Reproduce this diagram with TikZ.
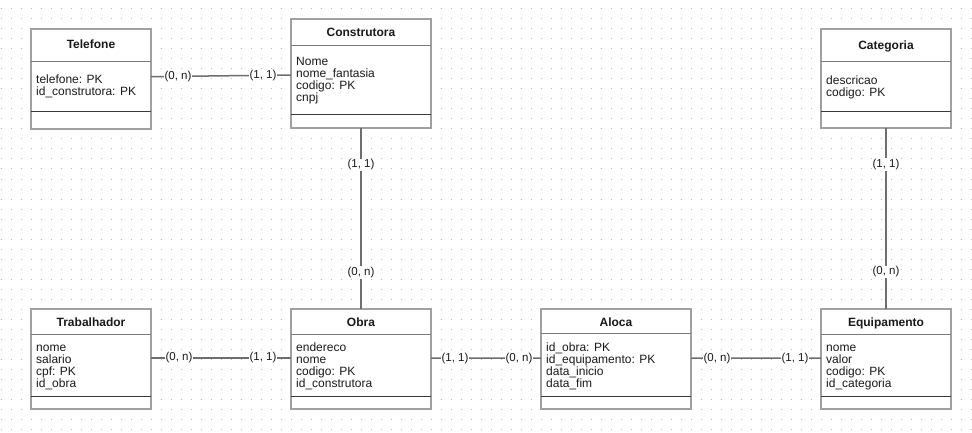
\documentclass[tikz,border=0pt]{standalone}
\usepackage{fontspec}
\setmainfont{Liberation Sans}
\definecolor{boxgray}{HTML}{A0A0A0}
\definecolor{divgray}{HTML}{7A7A7A}
\definecolor{divdark}{HTML}{3A3A3A}
\definecolor{conngray}{HTML}{6E6E6E}
\definecolor{dotgray}{HTML}{BDBDBD}
\definecolor{txt}{HTML}{1A1A1A}
\tikzset{
 ent/.style={draw=boxgray, line width=2pt, fill=white, anchor=north west, inner sep=0pt, outer sep=0pt},
 hdiv/.style={draw=divgray, line width=1pt},
 bdiv/.style={draw=divdark, line width=1pt},
 ttl/.style={font=\fontsize{12}{12}\selectfont\bfseries, anchor=base, inner sep=0pt, text=txt},
 attr/.style={font=\fontsize{12}{12}\selectfont, anchor=base west, inner sep=0pt, text=txt},
 conn/.style={draw=conngray, line width=1.5pt},
 lbl/.style={font=\fontsize{11.5}{11.5}\selectfont, fill=white, inner sep=1pt, text=txt},
 griddot/.style={draw=dotgray, line width=1pt, dash pattern=on 1pt off 9pt},
}
\newcommand{\entbox}[7]{%
 % #1 name, #2 x, #3 y, #4 w, #5 h, #6 header offset, #7 bottom divider offset
 \node[ent, minimum width=#4pt, minimum height=#5pt] (#1) at (#2,#3) {};
 \draw[hdiv] ([yshift=-#6pt]#1.north west) -- ([yshift=-#6pt]#1.north east);
 \draw[bdiv] ([yshift=-#7pt]#1.north west) -- ([yshift=-#7pt]#1.north east);
}
\begin{document}
\begin{tikzpicture}[x=1pt,y=-1pt]
\fill[white] (0,0) rectangle (972,433);
\useasboundingbox (0,0) rectangle (972,433);
\foreach \j in {0,...,42}{
  \draw[griddot] (0.5,{9+10*\j}) -- (972,{9+10*\j});
}
% Entities
\entbox{tel}{31}{29}{120}{100}{33}{83}
\entbox{con}{291}{19}{140}{109}{27}{96}
\entbox{cat}{821}{29}{130}{99.5}{33}{83}
\entbox{tra}{31}{309}{120}{100}{25}{87}
\entbox{obr}{291}{309}{140}{100}{25}{87}
\entbox{alo}{541}{309}{150}{99.5}{24}{87}
\entbox{equ}{821}{309}{130}{100}{25}{87}
% Titles
\node[ttl] (telT) at (91,49) {Telefone};
\node[ttl] (conT) at (361,37) {Construtora};
\node[ttl] (catT) at (886,50) {Categoria};
\node[ttl] (traT) at (91,326) {Trabalhador};
\node[ttl] (obrT) at (361,326) {Obra};
\node[ttl] (aloT) at (616,326) {Aloca};
\node[ttl] (equT) at (886,326) {Equipamento};
% Attributes
\foreach \t [count=\i] in {telefone: PK, id\_construtora: PK}
  \node[attr] (tel-\i) at (36,{84+12*(\i-1)}) {\t};
\foreach \t [count=\i] in {Nome, nome\_fantasia, codigo: PK, cnpj}
  \node[attr] (con-\i) at (296,{66+11.7*(\i-1)}) {\t};
\foreach \t [count=\i] in {descricao, codigo: PK}
  \node[attr] (cat-\i) at (826,{85+12*(\i-1)}) {\t};
\foreach \t [count=\i] in {nome, salario, cpf: PK, id\_obra}
  \node[attr] (tra-\i) at (36,{351+12*(\i-1)}) {\t};
\foreach \t [count=\i] in {endereco, nome, codigo: PK, id\_construtora}
  \node[attr] (obr-\i) at (296,{351+12*(\i-1)}) {\t};
\foreach \t [count=\i] in {id\_obra: PK, id\_equipamento: PK, data\_inicio, data\_fim}
  \node[attr] (alo-\i) at (546,{351+12*(\i-1)}) {\t};
\foreach \t [count=\i] in {nome, valor, codigo: PK, id\_categoria}
  \node[attr] (equ-\i) at (826,{351+12*(\i-1)}) {\t};
% Connectors
\draw[conn] ([yshift=2.3pt]tel.east) -- ([yshift=-1.5pt]con.west)
  node[lbl, pos=0.193] (l1) {(0, n)} node[lbl, pos=0.8] (l2) {(1, 1)};
\draw[conn] (con.south) -- (obr.north)
  node[lbl, pos=0.204] (l3) {(1, 1)} node[lbl, pos=0.8] (l4) {(0, n)};
\draw[conn] (cat.south) -- (equ.north)
  node[lbl, pos=0.2] (l5) {(1, 1)} node[lbl, pos=0.795] (l6) {(0, n)};
\draw[conn] ([yshift=1pt]tra.east) -- ([yshift=1pt]obr.west)
  node[lbl, pos=0.2] (l7) {(0, n)} node[lbl, pos=0.8] (l8) {(1, 1)};
\draw[conn] ([yshift=1pt]obr.east) -- ([yshift=0.5pt]alo.west)
  node[lbl, pos=0.218] (l9) {(1, 1)} node[lbl, pos=0.8] (l10) {(0, n)};
\draw[conn] ([yshift=0.5pt]alo.east) -- ([yshift=1pt]equ.west)
  node[lbl, pos=0.2] (l11) {(0, n)} node[lbl, pos=0.8] (l12) {(1, 1)};
\end{tikzpicture}
\end{document}
